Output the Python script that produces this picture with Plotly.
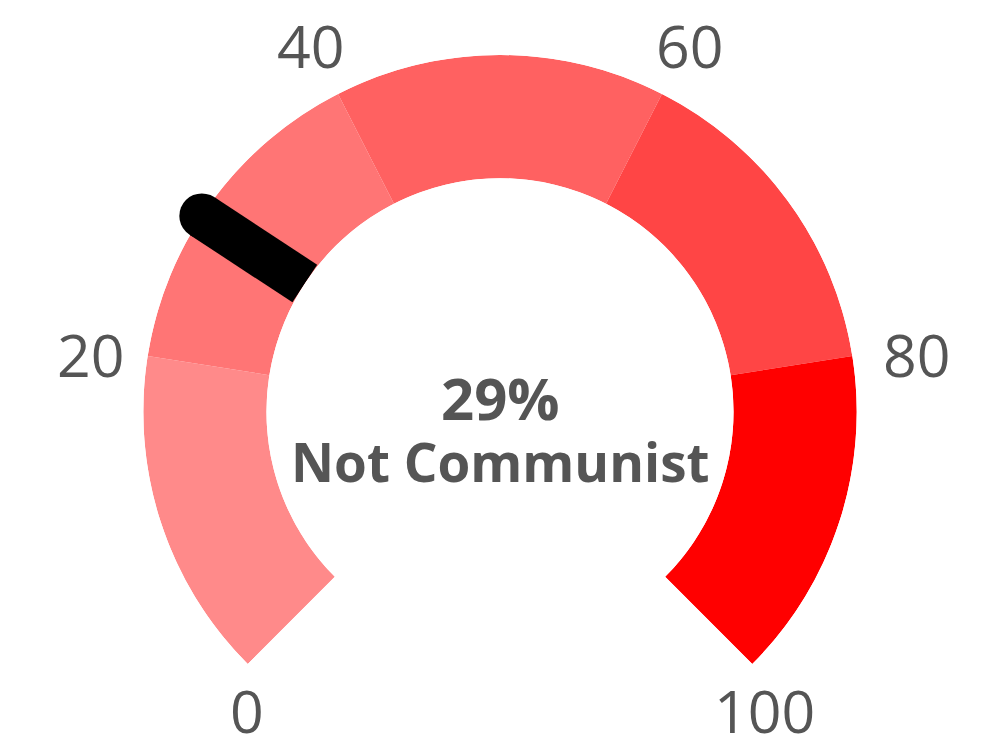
import math
import plotly.graph_objects as go

# ---- data ----
band_start = [0, 20, 40, 60, 80]
band_end = [20, 40, 60, 80, 100]
band_colors = ["#ff8a8a", "#ff7575", "#ff6161", "#ff4545", "#ff0000"]
tick_values = [0, 20, 40, 60, 80, 100]
tick_labels = ["0", "20", "40", "60", "80", "100"]
value = 29
value_label = "Not Communist"

# value -> screen angle (degrees, counterclockwise from 3 o'clock) on a 270 degree arc
START, SPAN, VMAX = 225.0, 270.0, 100.0
def to_theta(v):
    return START - v * SPAN / VMAX

HOLE = 0.6546
TEXT = "#555555"
FONT = "Open Sans"

centers = [to_theta((a + b) / 2) for a, b in zip(band_start, band_end)]
widths = [abs(to_theta(b) - to_theta(a)) for a, b in zip(band_start, band_end)]

fig = go.Figure()
fig.add_trace(go.Barpolar(
    r=[1] * len(band_start), theta=centers, width=widths, base=0,
    marker=dict(color=band_colors, line=dict(width=0)),
    hoverinfo="skip", showlegend=False,
))
# needle: straight bar across the band with a rounded outer end
fig.add_trace(go.Scatterpolar(
    r=[0, 1], theta=[to_theta(value)] * 2, mode="lines",
    line=dict(color="black", width=45), cliponaxis=False,
    hoverinfo="skip", showlegend=False,
))
fig.add_trace(go.Scatterpolar(
    r=[1], theta=[to_theta(value)], mode="markers",
    marker=dict(color="black", size=45, opacity=1, line=dict(width=0)),
    cliponaxis=False, hoverinfo="skip", showlegend=False,
))

# invisible cartesian frame sharing the polar sector's bounding box (unit = outer radius)
ymin = -math.sin(math.radians(45))
fig.add_trace(go.Scatter(
    x=[-1, 1], y=[ymin, 1], mode="markers", marker=dict(opacity=0),
    hoverinfo="skip", showlegend=False, xaxis="x", yaxis="y",
))

# tick labels placed just outside the outer edge of the arc
annotations = []
for tv, tl in zip(tick_values, tick_labels):
    a = math.radians(to_theta(tv))
    c, s = math.cos(a), math.sin(a)
    if s < -0.5:
        xa, ya, xs, ys = "center", "top", (-1 if c < 0 else 12), -4
    elif abs(c) > 0.9:
        xa, ya, xs, ys = ("right" if c < 0 else "left"), "middle", (-21 if c < 0 else 28), 2
    else:
        xa, ya, xs, ys = "center", "bottom", (-27 if c < 0 else 27), 7
    annotations.append(dict(
        x=c, y=s, xref="x", yref="y", text=tl, showarrow=False,
        xanchor=xa, yanchor=ya, xshift=xs, yshift=ys,
        font=dict(size=59, color=TEXT, family=FONT),
    ))

center_text = ("<span style='font-size:58px'><b>%d%%</b></span><br>"
               "<span style='font-size:53px'><b>%s</b></span>") % (value, value_label)
annotations.append(dict(
    text=center_text, x=0.5, y=0.387, xref="paper", yref="paper",
    showarrow=False, font=dict(size=47.5, color=TEXT, family=FONT),
    xanchor="center", yanchor="middle", align="center",
))

fig.update_layout(
    width=1000, height=753, paper_bgcolor="white", plot_bgcolor="rgba(0,0,0,0)",
    margin=dict(l=143, r=143, t=55, b=89),
    font=dict(family=FONT, color=TEXT),
    xaxis=dict(domain=[0, 1], range=[-1, 1], visible=False, fixedrange=True),
    yaxis=dict(domain=[0, 1], range=[ymin, 1], visible=False, fixedrange=True),
    polar=dict(
        domain=dict(x=[0, 1], y=[0, 1]),
        sector=[-45, 225], hole=HOLE, bgcolor="rgba(0,0,0,0)",
        radialaxis=dict(visible=False, range=[0, 1]),
        angularaxis=dict(
            rotation=0, direction="counterclockwise",
            tickmode="array",
            tickvals=[to_theta(t) for t in tick_values],
            ticktext=tick_labels,
            showticklabels=False, ticks="",
            showgrid=False, showline=False,
        ),
    ),
    annotations=annotations,
)
fig.write_html("out.html", config={"displayModeBar": False},
               post_script="document.body.style.margin='0px';")
